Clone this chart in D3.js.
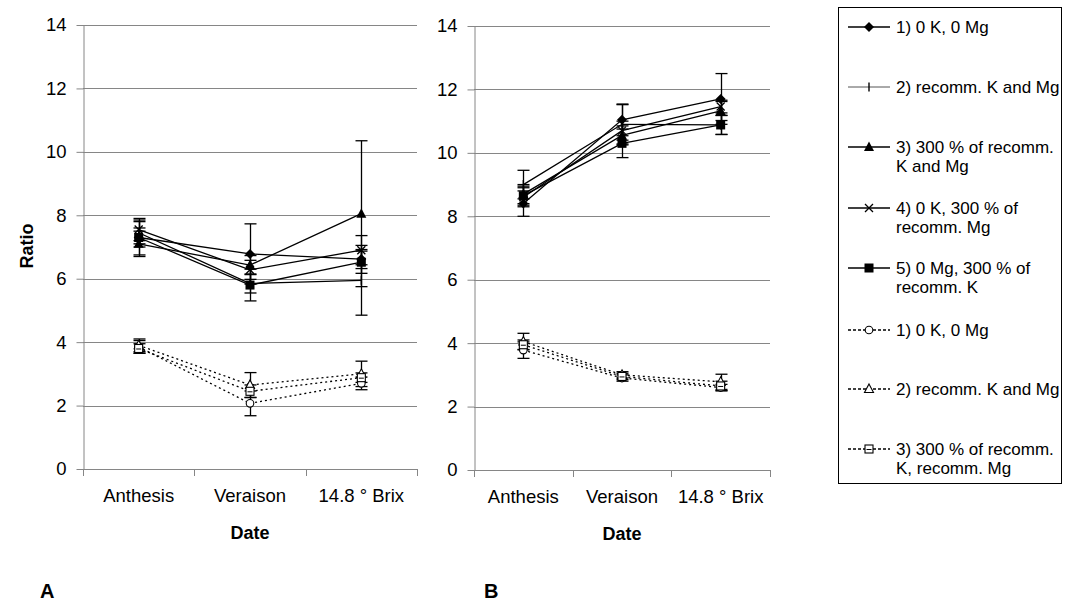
<!DOCTYPE html>
<html>
<head>
<meta charset="utf-8">
<script src="https://cdn.jsdelivr.net/npm/d3@7"></script>
<style>
  html, body { margin: 0; padding: 0; background: #fff; }
  svg { display: block; font-family: "Liberation Sans", Arial, sans-serif; }
</style>
</head>
<body>
<svg id="chart" width="1065" height="601"></svg>
<script>
// ---------------- data ----------------
const categories = ["Anthesis", "Veraison", "14.8 ° Brix"];
const yTicks = [0, 2, 4, 6, 8, 10, 12, 14];
const legendLabels = [
  ["1) 0 K, 0 Mg"],
  ["2) recomm. K and Mg"],
  ["3) 300 % of recomm.", "K and Mg"],
  ["4) 0 K, 300 % of", "recomm. Mg"],
  ["5) 0 Mg, 300 % of", "recomm.  K"],
  ["1) 0 K, 0 Mg"],
  ["2) recomm. K and Mg"],
  ["3) 300 % of recomm.", "K, recomm. Mg"]
];
// series order: 5 solid (filled markers), 3 dotted (open markers)
const markerKinds = ["diamond", "bar", "triangle", "cross", "square", "ocircle", "otriangle", "osquare"];
const seriesDashed = [false, false, false, false, false, true, true, true];

// Panel A
const panelAValues = [
  [7.30, 6.78, 6.62],
  [7.45, 5.85, 5.95],
  [7.10, 6.43, 8.05],
  [7.55, 6.28, 6.90],
  [7.30, 5.80, 6.52],
  [3.85, 2.07, 2.70],
  [3.90, 2.65, 3.00],
  [3.80, 2.45, 2.88]
];
const panelAErrors = [
  [0.30, 0.95, 0.30],
  [0.35, 0.30, 1.10],
  [0.40, 0.30, 2.30],
  [0.35, 0.30, 0.46],
  [0.55, 0.50, 0.35],
  [0.20, 0.39, 0.20],
  [0.20, 0.39, 0.40],
  [0.15, 0.20, 0.15]
];
// Panel B
const panelBValues = [
  [8.40, 11.04, 11.70],
  [9.00, 10.90, 10.88],
  [8.70, 10.55, 11.32],
  [8.60, 10.70, 11.46],
  [8.65, 10.30, 10.88],
  [3.78, 2.90, 2.60],
  [4.05, 3.00, 2.78],
  [3.95, 2.95, 2.65]
];
const panelBErrors = [
  [0.40, 0.50, 0.80],
  [0.45, 0.62, 0.30],
  [0.30, 0.30, 0.30],
  [0.30, 0.30, 0.20],
  [0.30, 0.45, 0.30],
  [0.26, 0.10, 0.10],
  [0.26, 0.10, 0.24],
  [0.15, 0.10, 0.15]
];

// ---------------- drawing ----------------
const svg = d3.select("#chart");
const gridColor = "#868686";
const FONT = 18.5;

function drawMarker(g, kind, cx, cy) {
  const m = g.append("g").attr("transform", `translate(${cx},${cy})`);
  switch (kind) {
    case "diamond":
      m.append("path").attr("d", "M0,-5L5,0L0,5L-5,0Z").attr("fill", "#000"); break;
    case "bar":
      m.append("line").attr("x1", 0).attr("x2", 0).attr("y1", -4.5).attr("y2", 4.5)
        .attr("stroke", "#000").attr("stroke-width", 1.4); break;
    case "triangle":
      m.append("path").attr("d", "M0,-5.5L5,4L-5,4Z").attr("fill", "#000"); break;
    case "cross":
      m.append("path").attr("d", "M-4,-4L4,4M-4,4L4,-4").attr("stroke", "#000")
        .attr("stroke-width", 1.3).attr("fill", "none"); break;
    case "square":
      m.append("rect").attr("x", -4.5).attr("y", -4.5).attr("width", 9).attr("height", 9).attr("fill", "#000"); break;
    case "ocircle":
      m.append("circle").attr("r", 3.8).attr("fill", "#fff").attr("stroke", "#000").attr("stroke-width", 1.1); break;
    case "otriangle":
      m.append("path").attr("d", "M0,-5L4.5,3.5L-4.5,3.5Z").attr("fill", "#fff").attr("stroke", "#000").attr("stroke-width", 1.1); break;
    case "osquare":
      m.append("rect").attr("x", -4).attr("y", -4).attr("width", 8).attr("height", 8)
        .attr("fill", "#fff").attr("stroke", "#000").attr("stroke-width", 1.1);
      m.append("line").attr("x1", -2.5).attr("x2", 2.5).attr("y1", 0.5).attr("y2", 0.5)
        .attr("stroke", "#000").attr("stroke-width", 1); break;
  }
}

function drawPanel(values, errors, left, right, bottom, top, panelLetter, letterX) {
  const g = svg.append("g");
  const x = d3.scaleBand().domain(categories).range([left, right]).padding(0);
  const y = d3.scaleLinear().domain([0, 14]).range([bottom, top]);
  const cx = c => x(c) + x.bandwidth() / 2;

  // gridlines
  g.append("g").selectAll("line").data(yTicks).join("line")
    .attr("x1", left).attr("x2", right)
    .attr("y1", d => Math.round(y(d)) + 0.5).attr("y2", d => Math.round(y(d)) + 0.5)
    .attr("stroke", gridColor).attr("stroke-width", 1);

  // y axis
  const ya = g.append("g").attr("transform", `translate(${left + 0.5},0)`)
    .call(d3.axisLeft(y).tickValues(yTicks).tickSize(7).tickSizeOuter(0).tickPadding(10));
  ya.select(".domain").attr("stroke", gridColor);
  ya.selectAll(".tick line").attr("stroke", gridColor);
  ya.selectAll(".tick text").attr("font-size", FONT).attr("fill", "#000")
    .attr("font-family", "Liberation Sans, Arial, sans-serif");

  // x axis labels
  const xa = g.append("g").attr("transform", `translate(0,${bottom})`)
    .call(d3.axisBottom(x).tickSize(0).tickPadding(20));
  xa.select(".domain").remove();
  xa.selectAll(".tick text").attr("font-size", FONT).attr("fill", "#000")
    .attr("font-family", "Liberation Sans, Arial, sans-serif");
  // category boundary ticks
  const bounds = categories.map(c => x(c) + x.bandwidth()).concat([left]);
  g.append("g").selectAll("line").data(bounds).join("line")
    .attr("x1", d => Math.round(d) + 0.5).attr("x2", d => Math.round(d) + 0.5)
    .attr("y1", bottom).attr("y2", bottom + 7)
    .attr("stroke", gridColor);

  // axis titles
  g.append("text").attr("x", (left + right) / 2).attr("y", bottom + 70)
    .attr("text-anchor", "middle").attr("font-weight", "bold").attr("font-size", 18).text("Date");
  g.append("text").attr("x", letterX).attr("y", 598)
    .attr("font-weight", "bold").attr("font-size", 20).text(panelLetter);

  const line = d3.line().x((d, i) => cx(categories[i])).y(d => y(d));

  // error bars
  values.forEach((vals, s) => {
    vals.forEach((v, i) => {
      const e = errors[s][i];
      const px = Math.round(cx(categories[i])) + 0.5;
      const eg = g.append("g").attr("stroke", "#000").attr("stroke-width", 1.3);
      eg.append("line").attr("x1", px).attr("x2", px).attr("y1", y(v + e)).attr("y2", y(v - e));
      eg.append("line").attr("x1", px - 6).attr("x2", px + 6).attr("y1", y(v + e)).attr("y2", y(v + e));
      eg.append("line").attr("x1", px - 6).attr("x2", px + 6).attr("y1", y(v - e)).attr("y2", y(v - e));
    });
  });

  // lines and markers
  values.forEach((vals, s) => {
    g.append("path").datum(vals).attr("d", line)
      .attr("fill", "none").attr("stroke", "#000").attr("stroke-width", 1.3)
      .attr("stroke-dasharray", seriesDashed[s] ? "2,3" : null);
  });
  values.forEach((vals, s) => {
    vals.forEach((v, i) => drawMarker(g, markerKinds[s], cx(categories[i]), y(v)));
  });
}

drawPanel(panelAValues, panelAErrors, 83, 417, 469, 25, "A", 40);
drawPanel(panelBValues, panelBErrors, 474, 770, 470, 26, "B", 484);

// y title
svg.append("text").attr("transform", "translate(33,246) rotate(-90)")
  .attr("text-anchor", "middle").attr("font-weight", "bold").attr("font-size", 18).text("Ratio");

// legend
const lg = svg.append("g");
lg.append("rect").attr("x", 838.5).attr("y", 7.5).attr("width", 223).attr("height", 476)
  .attr("fill", "#fff").attr("stroke", "#000").attr("stroke-width", 1);
const legendY = [27, 87, 147, 208, 268, 330, 389, 449];
legendLabels.forEach((lines, k) => {
  const yy = legendY[k];
  lg.append("line").attr("x1", 848).attr("x2", 890).attr("y1", yy).attr("y2", yy)
    .attr("stroke", k === 1 ? "#555" : "#000").attr("stroke-width", k === 1 ? 1 : 1.4)
    .attr("stroke-dasharray", seriesDashed[k] ? "3,2" : null);
  drawMarker(lg, markerKinds[k], 869, yy);
  lines.forEach((t, j) => {
    lg.append("text").attr("x", 896).attr("y", yy + 6 + j * 19)
      .attr("font-size", 17).attr("fill", "#000").text(t);
  });
});
</script>
</body>
</html>
